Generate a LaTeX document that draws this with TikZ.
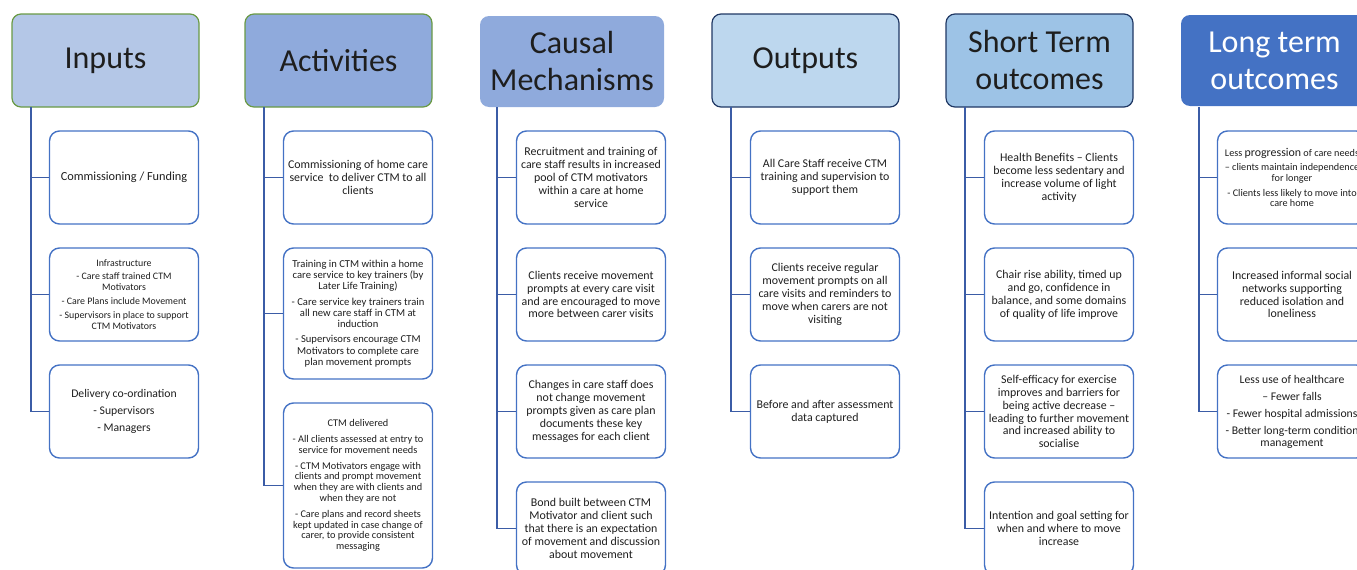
\documentclass[tikz,border=0pt]{standalone}
\usepackage{fontspec}
\setmainfont{Carlito}
\definecolor{txt}{HTML}{1E1E1E}
\definecolor{cardblue}{HTML}{4472C4}
\definecolor{linkblue}{HTML}{3B5CA6}
\definecolor{hgreen}{HTML}{6A9A45}
\definecolor{hnavy}{HTML}{203864}
\definecolor{fInputs}{HTML}{B4C7E7}
\definecolor{fAct}{HTML}{8FAADC}
\definecolor{fOut}{HTML}{BDD7EE}
\definecolor{fShort}{HTML}{9DC3E6}
\definecolor{fLong}{HTML}{4472C4}
\begin{document}
\begin{tikzpicture}[x=1pt,y=-1pt,
  hdr/.style={rectangle, rounded corners=9pt, minimum width=187pt, minimum height=93pt,
    inner sep=0pt, align=center, text=txt, font=\fontsize{32}{37}\selectfont},
  card/.style={rectangle, rounded corners=10pt, draw=cardblue, line width=1.4pt,
    minimum width=149pt, minimum height=93pt, inner sep=2pt, align=center, text=txt},
  link/.style={draw=linkblue, line width=1.5pt},
  fa/.style={font=\fontsize{12.3}{14}\selectfont},
  fb/.style={font=\fontsize{11.9}{12.9}\selectfont},
  fc/.style={font=\fontsize{10.6}{11.3}\selectfont},
  fd/.style={font=\fontsize{9.9}{10.4}\selectfont}
]
\path[use as bounding box, clip] (0,0) rectangle (1357,570);

% headers
\node[hdr, fill=fInputs, draw=hgreen, line width=1.2pt] (hIn) at (105.5,60.5) {Inputs};
\node[hdr, fill=fAct, draw=hgreen, line width=1.2pt] (hAct) at (338.5,60.5) {Activities};
\node[hdr, fill=fAct, minimum width=184pt, minimum height=91pt] (hCau) at (572,61.5) {Causal\\Mechanisms};
\node[hdr, fill=fOut, draw=hnavy, line width=1.2pt] (hOut) at (805.5,60.5) {Outputs};
\node[hdr, fill=fShort, draw=hnavy, line width=1.2pt] (hSh) at (1039.5,60.5) {Short Term\\outcomes};
\node[hdr, fill=fLong, text=white, minimum height=91pt] (hLo) at (1274.5,60.5) {Long term\\outcomes};

% trunk start points
\coordinate (tIn) at (31,107);
\coordinate (tAct) at (264,107);
\coordinate (tCau) at (497,107);
\coordinate (tOut) at (731,107);
\coordinate (tSh) at (965,107);
\coordinate (tLo) at (1199,107);

% Inputs
\node[card, fa] (in1) at (124,177.5) {Commissioning / Funding};
\node[card, fd] (in2) at (124,294.5) {Infrastructure\\[3pt]
 - Care staff trained CTM\\Motivators\\[4pt]
 - Care Plans include Movement\\[4pt]
 - Supervisors in place to support\\CTM Motivators};
\node[card, font=\fontsize{11.7}{17}\selectfont] (in3) at (124,411.5) {Delivery co-ordination\\- Supervisors\\- Managers};

% Activities
\node[card, fb] (ac1) at (358,177.5) {Commissioning of home care\\service\ \ to deliver CTM to all\\clients};
\node[card, fc, minimum height=131pt] (ac2) at (358,313.5) {Training in CTM within a home\\care service to key trainers (by\\Later Life Training)\\[4pt]
 - Care service key trainers train\\all new care staff in CTM at\\induction\\[4pt]
 - Supervisors encourage CTM\\Motivators to complete care\\plan movement prompts};
\node[card, font=\fontsize{10.3}{10.8}\selectfont, minimum height=165pt] (ac3) at (358,485.5) {CTM delivered\\[5pt]
 - All clients assessed at entry to\\service for movement needs\\[5pt]
 - CTM Motivators engage with\\clients and prompt movement\\when they are with clients and\\when they are not\\[5pt]
 - Care plans and record sheets\\kept updated in case change of\\carer, to provide consistent\\messaging};

% Causal mechanisms
\node[card, fb] (ca1) at (591,177.5) {Recruitment and training of\\care staff results in increased\\pool of CTM motivators\\within a care at home\\service};
\node[card, fb] (ca2) at (591,294.5) {Clients receive movement\\prompts at every care visit\\and are encouraged to move\\more between carer visits};
\node[card, fb] (ca3) at (591,411.5) {Changes in care staff does\\not change movement\\prompts given as care plan\\documents these key\\messages for each client};
\node[card, fb] (ca4) at (591,528.5) {Bond built between CTM\\Motivator and client such\\that there is an expectation\\of movement and discussion\\about movement};

% Outputs
\node[card, fb] (ou1) at (825,177.5) {All Care Staff receive CTM\\training and supervision to\\support them};
\node[card, fb] (ou2) at (825,294.5) {Clients receive regular\\movement prompts on all\\care visits and reminders to\\move when carers are not\\visiting};
\node[card, fb] (ou3) at (825,411.5) {Before and after assessment\\data captured};

% Short term outcomes
\node[card, fb] (sh1) at (1059,177.5) {Health Benefits – Clients\\become less sedentary and\\increase volume of light\\activity};
\node[card, fb] (sh2) at (1059,294.5) {Chair rise ability, timed up\\and go, confidence in\\balance, and some domains\\of quality of life improve};
\node[card, fb] (sh3) at (1059,411.5) {Self-efficacy for exercise\\improves and barriers for\\being active decrease –\\leading to further movement\\and increased ability to\\socialise};
\node[card, fb] (sh4) at (1059,528.5) {Intention and goal setting for\\when and where to move\\increase};

% Long term outcomes
\node[card, font=\fontsize{10.2}{10.6}\selectfont] (lo1) at (1292,177.5) {Less {\fontsize{11.9}{12}\selectfont progression} of care needs\\[4pt]
 – clients maintain independence\\for longer\\[4pt]
 - Clients less likely to move into\\care home};
\node[card, fb] (lo2) at (1292,294.5) {Increased informal social\\networks supporting\\reduced isolation and\\loneliness};
\node[card, font=\fontsize{11.7}{12}\selectfont] (lo3) at (1292,411.5) {Less use of healthcare\\[5pt]
 – Fewer falls\\[5pt]
 - Fewer hospital admissions\\[5pt]
 - Better long-term condition\\management};

% connectors
\foreach \t/\b in {tIn/in1,tIn/in2,tIn/in3,
  tAct/ac1,tAct/ac2,tAct/ac3,
  tCau/ca1,tCau/ca2,tCau/ca3,tCau/ca4,
  tOut/ou1,tOut/ou2,tOut/ou3,
  tSh/sh1,tSh/sh2,tSh/sh3,tSh/sh4,
  tLo/lo1,tLo/lo2,tLo/lo3}
  \draw[link] (\t) |- (\b.west);
\end{tikzpicture}
\end{document}
